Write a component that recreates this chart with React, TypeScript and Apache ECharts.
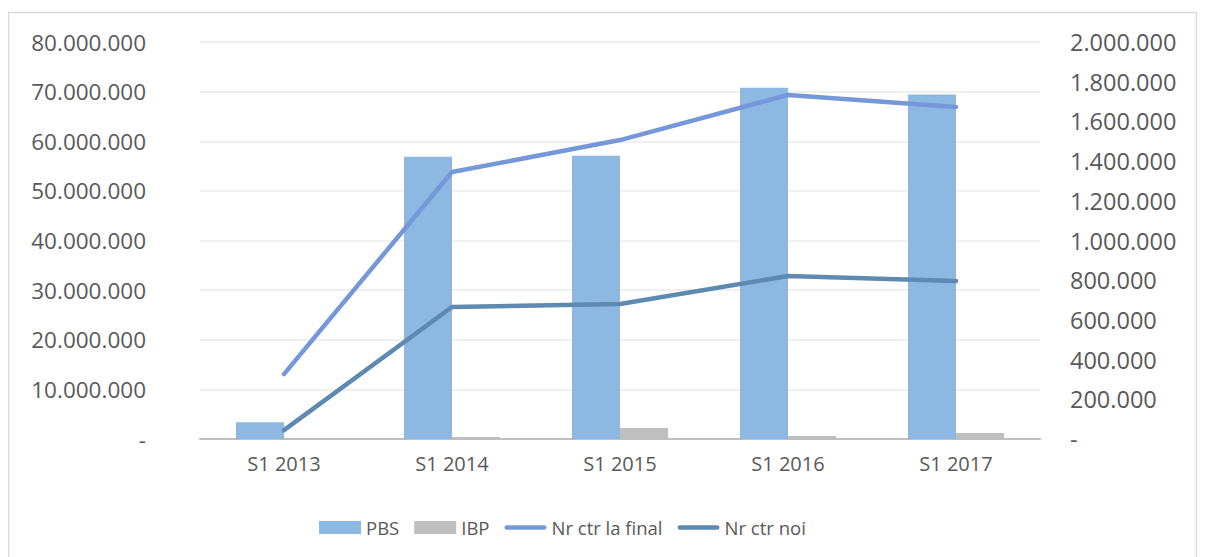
import React, { useEffect, useRef } from "react";
import * as echarts from "echarts";

const categories = ["S1 2013", "S1 2014", "S1 2015", "S1 2016", "S1 2017"];
const pbs = [3400000, 56900000, 57100000, 70800000, 69400000];
const ibp = [100000, 400000, 2200000, 600000, 1200000];
const nrCtrFinal = [327000, 1345000, 1506000, 1733000, 1673000];
const nrCtrNoi = [45000, 665000, 680000, 821000, 796000];

const fmt = (v: number) => {
  if (v === 0) return "-";
  return String(Math.round(v)).replace(/\B(?=(\d{3})+(?!\d))/g, ".");
};

const FONT = "'Open Sans', sans-serif";
const TXT = "#595959";
const LINE_ICON = "path://M2.5,0 L42.5,0 A2.5,2.5 0 0 1 42.5,5 L2.5,5 A2.5,2.5 0 0 1 2.5,0 Z";

export default function App() {
  const ref = useRef<HTMLDivElement>(null);
  useEffect(() => {
    if (!ref.current) return;
    const chart = echarts.init(ref.current, undefined, { renderer: "svg" });
    chart.setOption({
      animation: false,
      textStyle: { fontFamily: FONT },
      graphic: [
        {
          type: "rect",
          shape: { x: 0.5, y: 4.5, width: 1188, height: 570 },
          style: { fill: "none", stroke: "#D9D9D9", lineWidth: 1.5 },
          silent: true,
        },
      ],
      grid: { left: 192, right: 157, top: 34, bottom: 118 },
      legend: {
        top: 505,
        left: 306,
        itemWidth: 42,
        itemHeight: 13,
        itemGap: 15,
        textStyle: { color: TXT, fontSize: 18.5, fontFamily: FONT },
        data: [
          { name: "PBS", icon: "rect" },
          { name: "IBP", icon: "rect" },
          { name: "Nr ctr la final", icon: LINE_ICON, itemStyle: { color: "#7598D8" } },
          { name: "Nr ctr noi", icon: LINE_ICON, itemStyle: { color: "#5E8AB2" } },
        ],
      },
      xAxis: {
        type: "category",
        data: categories,
        axisTick: { show: false },
        axisLine: { lineStyle: { color: "#BFBFBF", width: 2 } },
        axisLabel: { color: TXT, fontSize: 20, margin: 14, fontFamily: FONT },
      },
      yAxis: [
        {
          type: "value",
          min: 0,
          max: 80000000,
          interval: 10000000,
          axisLine: { show: false },
          axisTick: { show: false },
          splitLine: { lineStyle: { color: "#EBEBEB", width: 1.5 } },
          axisLabel: { color: TXT, fontSize: 22.5, margin: 54, formatter: fmt, fontFamily: FONT },
        },
        {
          type: "value",
          min: 0,
          max: 2000000,
          interval: 200000,
          axisLine: { show: false },
          axisTick: { show: false },
          splitLine: { show: false },
          axisLabel: { color: TXT, fontSize: 23.5, margin: 30, formatter: fmt, fontFamily: FONT },
        },
      ],
      series: [
        {
          name: "PBS",
          type: "bar",
          data: pbs,
          barWidth: 48,
          barGap: "0%",
          itemStyle: { color: "#8DB8E2" },
        },
        {
          name: "IBP",
          type: "bar",
          data: ibp,
          barWidth: 48,
          barGap: "0%",
          itemStyle: { color: "#BFBFBF" },
        },
        {
          name: "Nr ctr la final",
          type: "line",
          yAxisIndex: 1,
          data: nrCtrFinal,
          symbol: "none",
          z: 5,
          lineStyle: { color: "#7598D8", width: 4.5, cap: "round", join: "round" },
          itemStyle: { color: "#7598D8" },
        },
        {
          name: "Nr ctr noi",
          type: "line",
          yAxisIndex: 1,
          data: nrCtrNoi,
          symbol: "none",
          z: 5,
          lineStyle: { color: "#5E8AB2", width: 4.5, cap: "round", join: "round" },
          itemStyle: { color: "#5E8AB2" },
        },
      ],
    });
    return () => chart.dispose();
  }, []);
  return <div ref={ref} style={{ width: 1189, height: 549 }} />;
}
